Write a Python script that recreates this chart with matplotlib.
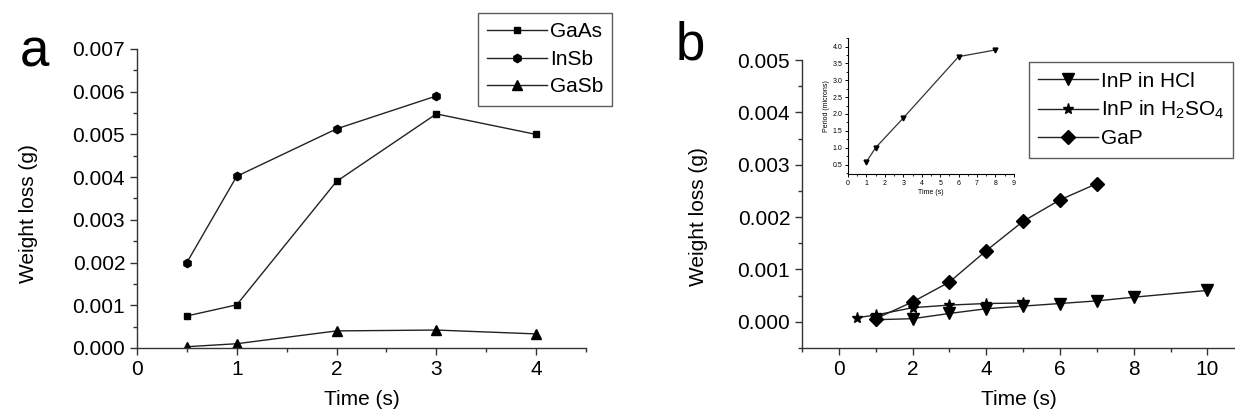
import matplotlib
matplotlib.use("Agg")
import matplotlib.pyplot as plt
from matplotlib.ticker import MultipleLocator, FormatStrFormatter

plt.rcParams['font.family'] = ['Liberation Sans', 'DejaVu Sans']
plt.rcParams['mathtext.fontset'] = 'custom'
plt.rcParams['mathtext.rm'] = 'Liberation Sans'
plt.rcParams['mathtext.it'] = 'Liberation Sans:italic'

# Panel a data
time_a = [0.5, 1, 2, 3, 4]
gaas = [0.00075, 0.00101, 0.0039, 0.00548, 0.005]
time_insb = [0.5, 1, 2, 3]
insb = [0.002, 0.00402, 0.00513, 0.0059]
gasb = [0.00003, 0.0001, 0.0004, 0.00042, 0.00033]

# Panel b data
time_hcl = [1, 2, 3, 4, 5, 6, 7, 8, 10]
inp_hcl = [0.00004, 0.00006, 0.00016, 0.00025, 0.0003, 0.00035, 0.0004, 0.00047, 0.0006]
time_h2so4 = [0.5, 1, 2, 3, 4, 5]
inp_h2so4 = [0.00008, 0.00013, 0.00027, 0.00032, 0.00035, 0.00036]
time_gap = [1, 2, 3, 4, 5, 6, 7]
gap = [0.00006, 0.00038, 0.00076, 0.00136, 0.00192, 0.00233, 0.00264]

# Inset data
inset_time = [1, 1.5, 3, 6, 8]
inset_period = [0.58, 1.0, 1.88, 3.7, 3.9]

fig = plt.figure(figsize=(12.35, 4.13), dpi=100)

line_kw = dict(color='#222222', lw=1.0, markerfacecolor='black', markeredgecolor='black')

def style_axes(ax, fs=15):
    for s in ['top', 'right']:
        ax.spines[s].set_visible(False)
    for s in ['left', 'bottom']:
        ax.spines[s].set_color('#333333')
        ax.spines[s].set_linewidth(1.0)
    ax.tick_params(which='major', direction='out', length=5, width=1, labelsize=fs,
                   colors='#333333', labelcolor='black')
    ax.tick_params(which='minor', direction='out', length=3, width=1, colors='#333333')

leg_kw = dict(loc='upper left', fontsize=15, frameon=True, fancybox=False,
              edgecolor='#333333', handlelength=2.85, borderpad=0.45,
              labelspacing=0.4, handletextpad=0.15, borderaxespad=0.0)

# Panel a
axa = fig.add_axes([0.1109, 0.1574, 0.3636, 0.724])
axa.plot(time_a, gaas, marker='s', ms=5, label='GaAs', **line_kw)
axa.plot(time_insb, insb, marker='h', ms=6, label='InSb', **line_kw)
axa.plot(time_a, gasb, marker='^', ms=7, label='GaSb', **line_kw)
axa.set_xlim(0, 4.5)
axa.set_ylim(0, 0.007)
axa.xaxis.set_major_locator(MultipleLocator(1))
axa.xaxis.set_minor_locator(MultipleLocator(0.5))
axa.yaxis.set_major_locator(MultipleLocator(0.001))
axa.yaxis.set_minor_locator(MultipleLocator(0.0005))
axa.yaxis.set_major_formatter(FormatStrFormatter('%.3f'))
style_axes(axa)
axa.set_xlabel('Time (s)', fontsize=15, labelpad=8)
axa.set_ylabel('Weight loss (g)', fontsize=15)
axa.yaxis.set_label_coords(-0.22, 0.448)
leg = axa.legend(bbox_to_anchor=(0.759, 1.12), **leg_kw)
leg.get_frame().set_linewidth(1.0)
fig.text(0.016, 0.84, 'a', fontsize=38, color='black')

# Panel b
axb = fig.add_axes([0.6494, 0.1574, 0.3506, 0.697])
axb.plot(time_hcl, inp_hcl, marker='v', ms=8, label='InP in HCl', **line_kw)
axb.plot(time_h2so4, inp_h2so4, marker='*', ms=8, label='InP in H$_2$SO$_4$', **line_kw)
axb.plot(time_gap, gap, marker='D', ms=7, label='GaP', **line_kw)
axb.set_xlim(-1, 10.75)
axb.set_ylim(-0.0005, 0.005)
axb.xaxis.set_major_locator(MultipleLocator(2))
axb.xaxis.set_minor_locator(MultipleLocator(1))
axb.yaxis.set_major_locator(MultipleLocator(0.001))
axb.yaxis.set_minor_locator(MultipleLocator(0.0005))
axb.yaxis.set_major_formatter(FormatStrFormatter('%.3f'))
style_axes(axb)
axb.set_xlabel('Time (s)', fontsize=15, labelpad=8)
axb.set_ylabel('Weight loss (g)', fontsize=15)
axb.yaxis.set_label_coords(-0.217, 0.455)
legb = axb.legend(bbox_to_anchor=(0.524, 0.993), **leg_kw)
legb.get_frame().set_linewidth(1.0)
fig.text(0.547, 0.855, 'b', fontsize=38, color='black')

# Inset
axi = fig.add_axes([0.6866, 0.5787, 0.1344, 0.329])
axi.plot(inset_time, inset_period, marker='v', ms=3.5, color='#333333', lw=0.9,
         markerfacecolor='black', markeredgecolor='black')
axi.set_xlim(0, 9)
axi.set_ylim(0.22, 4.25)
axi.xaxis.set_major_locator(MultipleLocator(1))
axi.xaxis.set_minor_locator(MultipleLocator(0.5))
axi.set_yticks([0.5, 1.0, 1.5, 2.0, 2.5, 3.0, 3.5, 4.0])
axi.yaxis.set_minor_locator(MultipleLocator(0.25))
axi.yaxis.set_major_formatter(FormatStrFormatter('%.1f'))
for s in ['top', 'right']:
    axi.spines[s].set_visible(False)
for s in ['left', 'bottom']:
    axi.spines[s].set_linewidth(0.8)
axi.tick_params(which='major', direction='out', length=2.5, width=0.7, labelsize=5, pad=1.5)
axi.tick_params(which='minor', direction='out', length=1.5, width=0.6)
axi.set_xlabel('Time (s)', fontsize=5, labelpad=2)
axi.set_ylabel('Period (microns)', fontsize=5, labelpad=2)

fig.savefig('out.png', dpi=100)
